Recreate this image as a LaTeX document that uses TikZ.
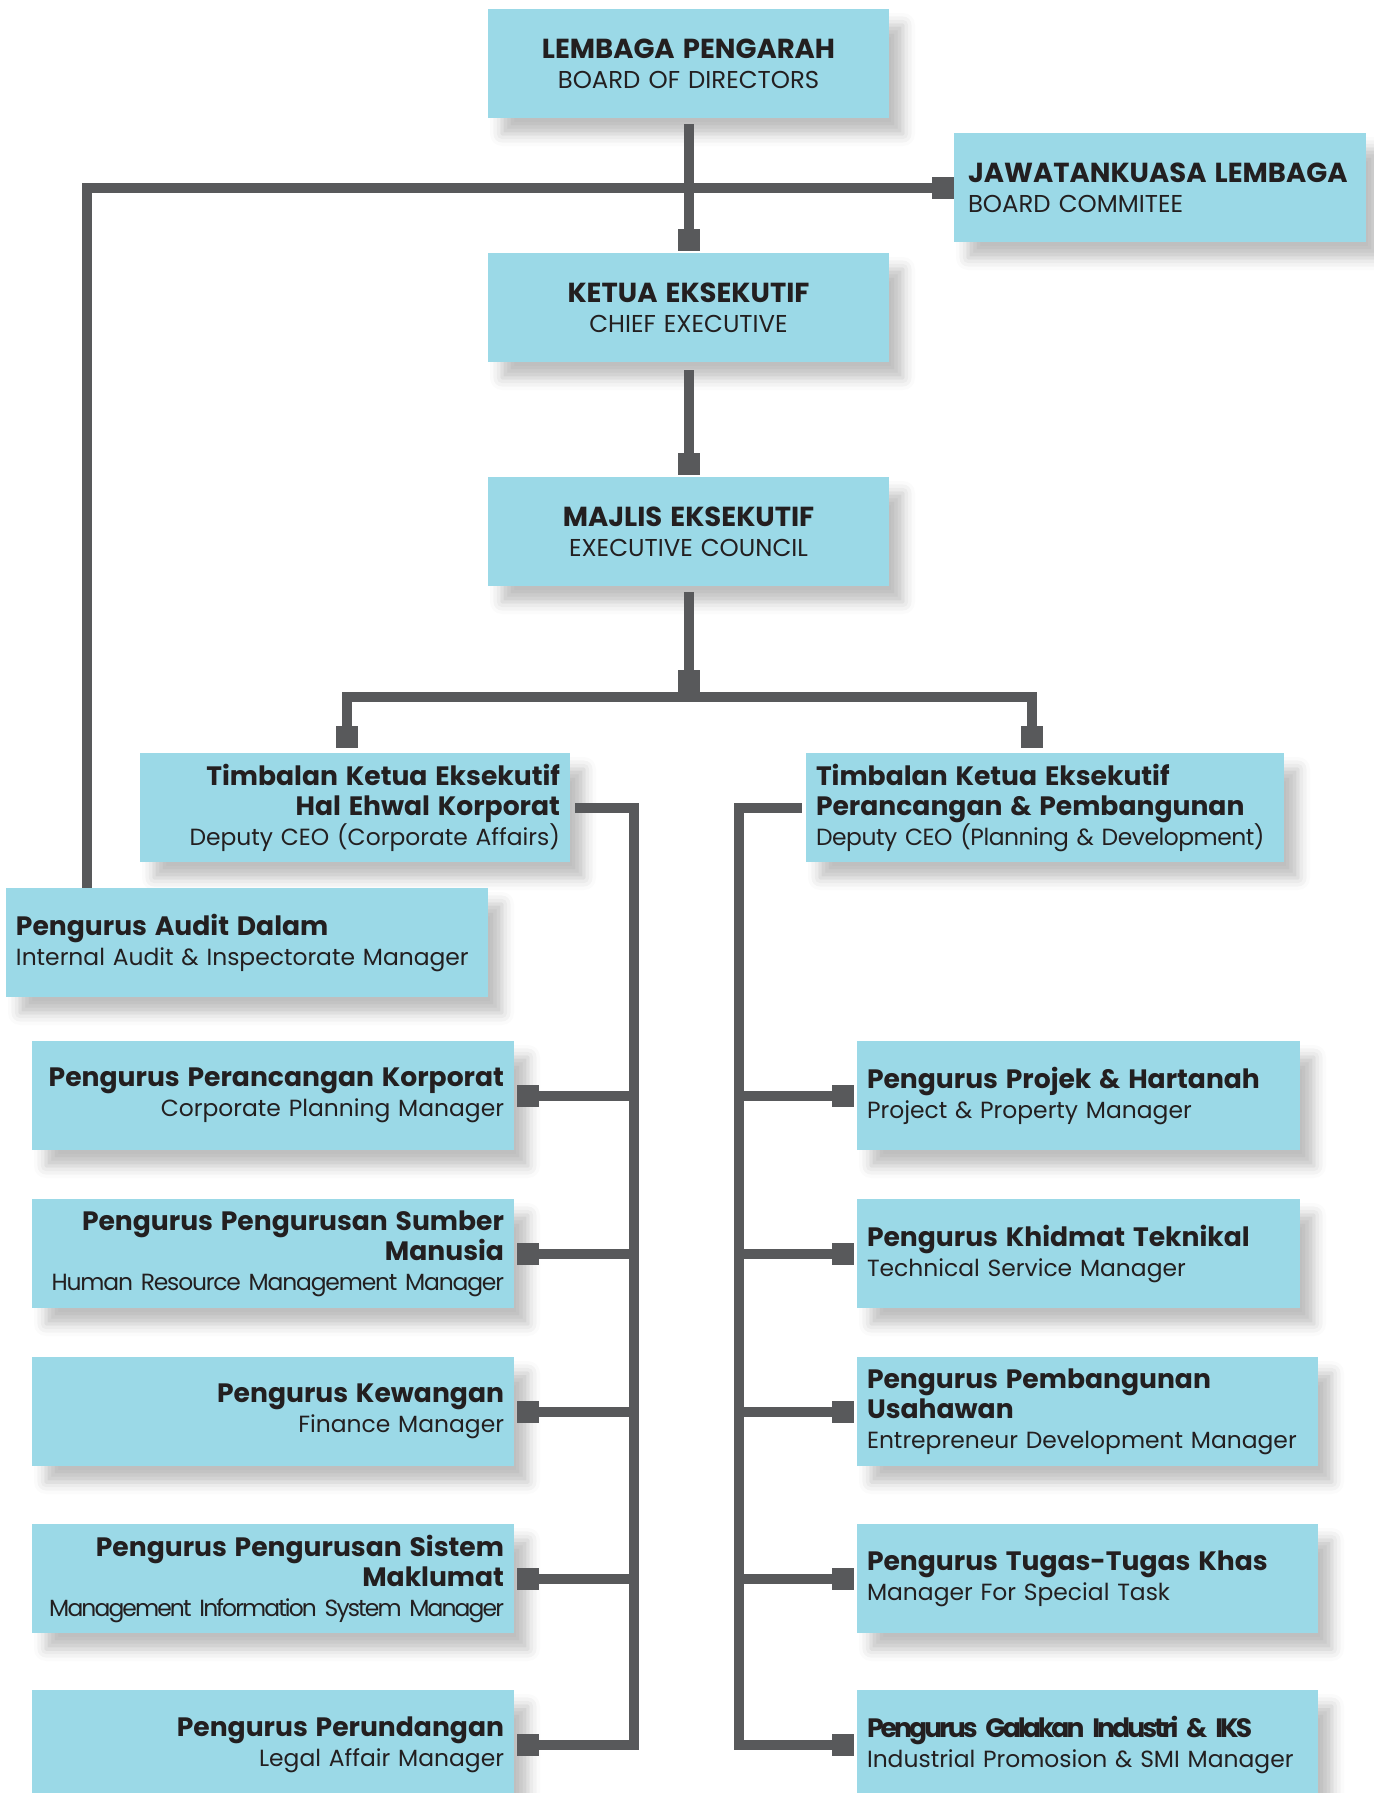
\documentclass[tikz,border=0pt]{standalone}
\usepackage{fontspec}
\setmainfont{Poppins}
\usetikzlibrary{arrows.meta,shadows.blur}

\definecolor{boxcyan}{HTML}{9BD9E7}
\definecolor{linegrey}{HTML}{58595B}
\definecolor{inkblack}{HTML}{231F20}
\hyphenpenalty=10000
\newcommand\hd[1]{{\fontsize{26.6}{30}\selectfont\bfseries #1}}
\newcommand\tophd[1]{{\fontsize{27.5}{30}\selectfont\bfseries #1}}
\newcommand\tight[2]{{\addfontfeature{LetterSpace=#1}#2}}

\tikzset{
    orgbox/.style={fill=boxcyan, text=inkblack, inner xsep=10pt, inner ysep=0pt,
        minimum height=109pt, font=\fontsize{23.4}{30}\selectfont,
        blur shadow={shadow xshift=14pt, shadow yshift=-16pt, shadow blur radius=12pt, shadow opacity=25}},
    topbox/.style={orgbox, font=\fontsize{24.4}{30}\selectfont},
    conn/.style={draw=linegrey, line width=10pt},
    sq/.tip={Square[length=22pt, width=22pt, line width=0pt]},
}

\begin{document}
\begin{tikzpicture}[x=1pt, y=-1pt]
    \useasboundingbox (0, 0) rectangle (1373, 1793);
    \node[topbox, text width=381pt, align=center] (lembaga) at (688.5, 63.5) {\tophd{LEMBAGA PENGARAH}\\BOARD OF DIRECTORS};
    \node[topbox, inner xsep=14pt, text width=384pt, align=left] (jawatan) at (1160, 187.5) {\tophd{JAWATANKUASA LEMBAGA}\\BOARD COMMITEE};
    \node[topbox, text width=381pt, align=center] (ketua) at (688.5, 307.5) {\tophd{KETUA EKSEKUTIF}\\CHIEF EXECUTIVE};
    \node[topbox, text width=381pt, align=center] (majlis) at (688.5, 531.5) {\tophd{MAJLIS EKSEKUTIF}\\EXECUTIVE COUNCIL};
    \node[orgbox, text width=410pt, align=right] (tkeL) at (355, 807.5) {\hd{Timbalan Ketua Eksekutif}\\\hd{Hal Ehwal Korporat}\\Deputy CEO (Corporate Affairs)};
    \node[orgbox, text width=458pt, align=left] (tkeR) at (1045, 807.5) {\hd{Timbalan Ketua Eksekutif}\\\hd{Perancangan \& Pembangunan}\\\tight{-2}{Deputy CEO (Planning \& Development)}};
    \node[orgbox, text width=462pt, align=left] (audit) at (247, 942.5) {\hd{Pengurus Audit Dalam}\\Internal Audit \& Inspectorate Manager};

    \node[orgbox, text width=462pt, align=right] (pk1) at (273, 1095.5) {\hd{Pengurus Perancangan Korporat}\\Corporate Planning Manager};
    \node[orgbox, text width=462pt, align=right] (pk2) at (273, 1253.5) {\hd{Pengurus Pengurusan Sumber}\\\hd{Manusia}\\\tight{-5}{Human Resource Management Manager}};
    \node[orgbox, text width=462pt, align=right] (pk3) at (273, 1411.5) {\hd{Pengurus Kewangan}\\Finance Manager};
    \node[orgbox, text width=462pt, align=right] (pk4) at (273, 1578.5) {\hd{Pengurus Pengurusan Sistem}\\\hd{Maklumat}\\\tight{-8}{Management Information System Manager}};
    \node[orgbox, text width=462pt, align=right] (pk5) at (273, 1744.5) {\hd{Pengurus Perundangan}\\Legal Affair Manager};

    \node[orgbox, text width=423pt, align=left] (pr1) at (1078.5, 1095.5) {\hd{Pengurus Projek \& Hartanah}\\Project \& Property Manager};
    \node[orgbox, text width=423pt, align=left] (pr2) at (1078.5, 1253.5) {\hd{Pengurus Khidmat Teknikal}\\Technical Service Manager};
    \node[orgbox, text width=441pt, align=left] (pr3) at (1087.5, 1411.5) {\hd{Pengurus Pembangunan}\\\hd{Usahawan}\\Entrepreneur Development Manager};
    \node[orgbox, text width=441pt, align=left] (pr4) at (1087.5, 1578.5) {\hd{Pengurus Tugas-Tugas Khas}\\Manager For Special Task};
    \node[orgbox, text width=441pt, align=left] (pr5) at (1087.5, 1744.5) {\hd{\tight{-11}{Pengurus Galakan Industri \& IKS}}\\Industrial Promosion \& SMI Manager};

    \coordinate (mj) at (688.5, 697);
    \coordinate (tL) at (634, 0);
    \coordinate (tR) at (739, 0);

    \draw[conn, -sq, shorten <=6pt, shorten >=2pt] (lembaga) -- (ketua);
    \draw[conn, -sq] ([xshift=81pt]audit.north west) |- (jawatan.west);
    \draw[conn, -sq, shorten <=8pt, shorten >=2pt] (ketua) -- (majlis);
    \draw[conn, -sq, shorten <=6pt] (majlis) -- ([yshift=5pt]mj);
    \draw[conn, -sq, shorten >=5pt] (mj) -| ([xshift=-8pt]tkeL.north);
    \draw[conn, -sq, shorten >=5pt] (mj) -| ([xshift=-13pt]tkeR.north);

    \draw[conn, -sq, shorten <=5pt, shorten >=3pt] (tkeL.east) -| (tL |- pk5.east) -- (pk5.east);
    \draw[conn, -sq, shorten <=4pt, shorten >=3pt] (tkeR.west) -| (tR |- pr5.west) -- (pr5.west);
    \foreach \n in {1,...,4} {
        \draw[conn, -sq, shorten >=3pt] (tL |- pk\n.east) -- (pk\n.east);
        \draw[conn, -sq, shorten >=3pt] (tR |- pr\n.west) -- (pr\n.west);
    }
\end{tikzpicture}
\end{document}
